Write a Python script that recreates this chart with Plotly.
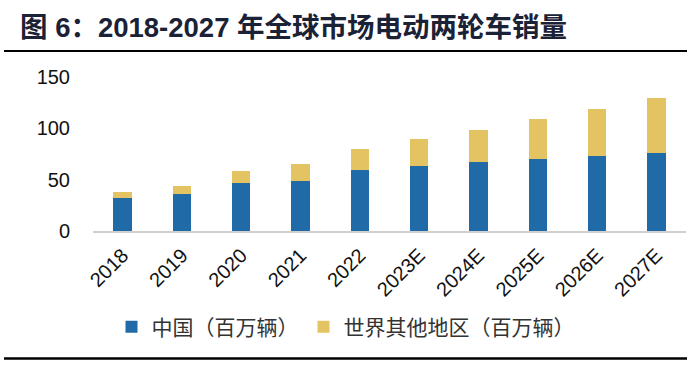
import plotly.graph_objects as go

categories = ["2018", "2019", "2020", "2021", "2022", "2023E", "2024E", "2025E", "2026E", "2027E"]
china = [32.0, 35.8, 46.8, 49.0, 59.7, 63.6, 67.1, 70.0, 72.9, 76.2]
rest_of_world = [5.8, 7.7, 11.2, 15.9, 20.6, 26.1, 31.6, 38.7, 46.1, 53.2]
series_names = ["中国（百万辆）", "世界其他地区（百万辆）"]
y_ticks = [0, 50, 100, 150]

BLUE = "#1F6AA7"
GOLD = "#E4C462"

fig = go.Figure()
fig.add_trace(go.Bar(x=categories, y=china, name=series_names[0], marker_color=BLUE,
                     marker_line_width=0))
fig.add_trace(go.Bar(x=categories, y=rest_of_world, name=series_names[1], marker_color=GOLD,
                     marker_line_width=0))

W, H = 691, 365
ml, mr, mt, mb = 93, 5, 77, 134
PW, PH = W - ml - mr, H - mt - mb

fig.update_layout(
    width=W, height=H,
    barmode="stack",
    bargap=0.69,
    plot_bgcolor="white",
    paper_bgcolor="white",
    margin=dict(l=ml, r=mr, t=mt, b=mb, autoexpand=False),
    font=dict(family="Liberation Sans, Arial, Noto Sans CJK SC", color="#111111"),
    title=dict(
        text="<b>图 6：2018-2027 年全球市场电动两轮车销量</b>",
        x=20 / W, xanchor="left", xref="container",
        y=1 - 27 / H, yanchor="middle", yref="container",
        font=dict(family="Liberation Sans, Noto Sans CJK SC", size=27.5, color="#1B2236"),
    ),
    showlegend=True,
    legend=dict(
        orientation="h", x=0.5, xanchor="center", xref="container",
        y=1 - 327 / H, yanchor="middle", yref="container",
        font=dict(family="Noto Sans CJK SC", size=21, color="#333333"),
        traceorder="normal", itemwidth=30,
    ),
    xaxis=dict(
        tickangle=-45, tickfont=dict(size=20, color="#111111"),
        showline=True, linecolor="#D0D0D0", linewidth=1.5,
        showgrid=False, ticks="", ticklabelstandoff=3,
    ),
    yaxis=dict(
        range=[0, 150], tickvals=y_ticks, tickfont=dict(size=20, color="#111111"),
        showgrid=False, zeroline=False, showline=False, ticks="",
        ticklabelstandoff=22,
    ),
)

x0 = -(ml - 4) / PW
x1 = 1 + (mr - 4) / PW
for ypix, lw in [(51, 2), (358.5, 2.5)]:
    yp = (H - mb - ypix) / PH
    fig.add_shape(type="line", xref="paper", yref="paper",
                  x0=x0, x1=x1, y0=yp, y1=yp,
                  line=dict(color="black", width=lw))

fig.write_html("out.html",
               config={"displayModeBar": False},
               post_script="document.body.style.margin='0';document.body.style.overflow='hidden';")
